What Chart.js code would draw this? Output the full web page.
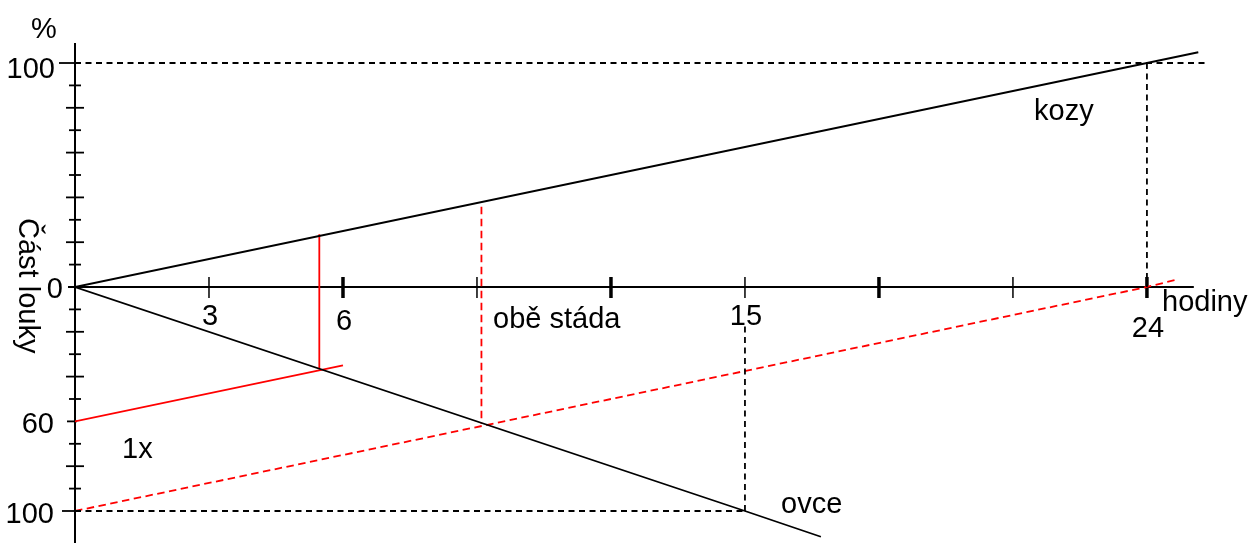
<!DOCTYPE html>
<html>
<head>
<meta charset="utf-8">
<script src="https://cdn.jsdelivr.net/npm/chart.js@4.4.1/dist/chart.umd.min.js"></script>
<style>
  body { margin: 0; background: #fff; }
  canvas { display: block; }
</style>
</head>
<body>
<canvas id="graf" width="1251" height="543"></canvas>
<script>
// hours on the x axis, meadow share in % (up = goats, down = sheep, drawn negative)
const hourTicks = [3, 6, 9, 12, 15, 18, 21, 24];
const hourLabels = ['3', '6', '', '', '15', '', '', '24'];
const pctTicks = [10, 20, 30, 40, 50, 60, 70, 80, 90, 100];
const upperLabels = { 0: '0', 100: '100' };
const lowerLabels = { 60: '60', 100: '100' };

const kozy = [{ x: 0, y: 0 }, { x: 24, y: 100 }, { x: 25.15, y: 104.8 }];
const ovce = [{ x: 0, y: 0 }, { x: 15, y: -100 }, { x: 16.7, y: -111.5 }];
const jednou = [{ x: 0, y: -60 }, { x: 6, y: -35 }];
const jednouSvisle = [{ x: 5.47, y: 23.5 }, { x: 5.47, y: -36.6 }];
const obe = [{ x: 0, y: -100 }, { x: 24, y: 0 }, { x: 24.63, y: 3.1 }];
const obeSvisle = [{ x: 9.1, y: 35.8 }, { x: 9.1, y: -61 }];
const horniMez = [{ x: 0, y: 100 }, { x: 25.36, y: 100 }];
const horniSvisle = [{ x: 24, y: 100 }, { x: 24, y: 0 }];
const dolniMez = [{ x: 0, y: -100 }, { x: 15, y: -100 }];
const dolniSvisle = [{ x: 15, y: -100 }, { x: 15, y: -17 }];

const FONT = '29px "Liberation Sans", Arial, sans-serif';

function line(data, color, dash) {
  return {
    data: data, borderColor: color, borderWidth: 1.8, borderDash: dash || [],
    showLine: true, pointRadius: 0, fill: false, tension: 0
  };
}

// axes, ticks and texts drawn by hand through the scales
const osyPlugin = {
  id: 'osy',
  beforeDatasetsDraw: (chart) => {
    const { ctx, chartArea } = chart;
    const xs = chart.scales.x, ys = chart.scales.y;
    const x0 = xs.getPixelForValue(0), y0 = ys.getPixelForValue(0);
    ctx.save();
    ctx.strokeStyle = '#000';
    ctx.lineWidth = 2;
    ctx.beginPath();
    ctx.moveTo(x0, chartArea.top);
    ctx.lineTo(x0, chartArea.bottom);
    ctx.moveTo(x0 - 7, y0);
    ctx.lineTo(xs.getPixelForValue(25.05), y0);
    ctx.stroke();

    // y ticks, both halves
    ctx.lineWidth = 1.8;
    [1, -1].forEach(sign => {
      pctTicks.forEach(v => {
        const y = ys.getPixelForValue(sign * v);
        let a = -6, b = 6;
        if (v % 20 === 0) { a = -9; b = 9; }
        if (v === 100) { a = sign > 0 ? -16 : -13; b = 2; }
        if (sign < 0 && v === 60) { a = -8; b = 2; }
        ctx.beginPath();
        ctx.moveTo(x0 + a, y);
        ctx.lineTo(x0 + b, y);
        ctx.stroke();
      });
    });

    // x ticks, thick every 6 hours
    hourTicks.forEach(h => {
      const x = xs.getPixelForValue(h);
      ctx.lineWidth = h % 6 === 0 ? 3.5 : 1.5;
      ctx.beginPath();
      ctx.moveTo(x, y0 - 10);
      ctx.lineTo(x, y0 + 11);
      ctx.stroke();
    });
    ctx.restore();
  },
  afterDraw: (chart) => {
    const { ctx } = chart;
    const xs = chart.scales.x, ys = chart.scales.y;
    const x0 = xs.getPixelForValue(0), y0 = ys.getPixelForValue(0);
    ctx.save();
    ctx.fillStyle = '#000';
    ctx.font = FONT;
    ctx.textBaseline = 'alphabetic';

    ctx.textAlign = 'center';
    ctx.fillText('%', x0 - 31, 38);

    ctx.textAlign = 'right';
    Object.keys(upperLabels).forEach(k => {
      const v = +k;
      const y = ys.getPixelForValue(v);
      ctx.fillText(upperLabels[k], v === 0 ? x0 - 12 : x0 - 20, y + (v === 0 ? 11 : 15));
    });
    Object.keys(lowerLabels).forEach(k => {
      const y = ys.getPixelForValue(-k);
      ctx.fillText(lowerLabels[k], x0 - 21, y + 12);
    });

    const dy = { '3': 38, '6': 43, '15': 38, '24': 50 };
    ctx.textAlign = 'center';
    hourTicks.forEach((h, i) => {
      if (!hourLabels[i]) return;
      ctx.fillText(hourLabels[i], xs.getPixelForValue(h) + 1, y0 + dy[hourLabels[i]]);
    });

    ctx.textAlign = 'left';
    ctx.fillText('obě stáda', 493, 328);
    ctx.fillText('hodiny', 1162, 311);
    ctx.fillText('kozy', 1034, 120);
    ctx.fillText('ovce', 781, 513);
    ctx.fillText('1x', 122, 458);

    ctx.translate(19, 218);
    ctx.rotate(Math.PI / 2);
    ctx.fillText('Část louky', 0, 0);
    ctx.restore();
  }
};

new Chart(document.getElementById('graf').getContext('2d'), {
  type: 'scatter',
  data: {
    datasets: [
      line(horniMez, '#000', [6, 4.5]),
      line(horniSvisle, '#000', [6, 4.5]),
      line(dolniMez, '#000', [6, 4.5]),
      line(dolniSvisle, '#000', [6, 4.5]),
      line(kozy, '#000'),
      line(ovce, '#000'),
      line(jednou, '#ff0000'),
      line(jednouSvisle, '#ff0000'),
      line(obe, '#ff0000', [7.5, 4.5]),
      line(obeSvisle, '#ff0000', [7.5, 4.5])
    ]
  },
  options: {
    responsive: false,
    animation: false,
    layout: { padding: { left: 75, right: 0, top: 43, bottom: 0 } },
    scales: {
      x: { type: 'linear', display: false, min: 0, max: 26.33 },
      y: { type: 'linear', display: false, min: -114.29, max: 108.93 }
    },
    plugins: { legend: { display: false }, tooltip: { enabled: false } }
  },
  plugins: [osyPlugin]
});
</script>
</body>
</html>
